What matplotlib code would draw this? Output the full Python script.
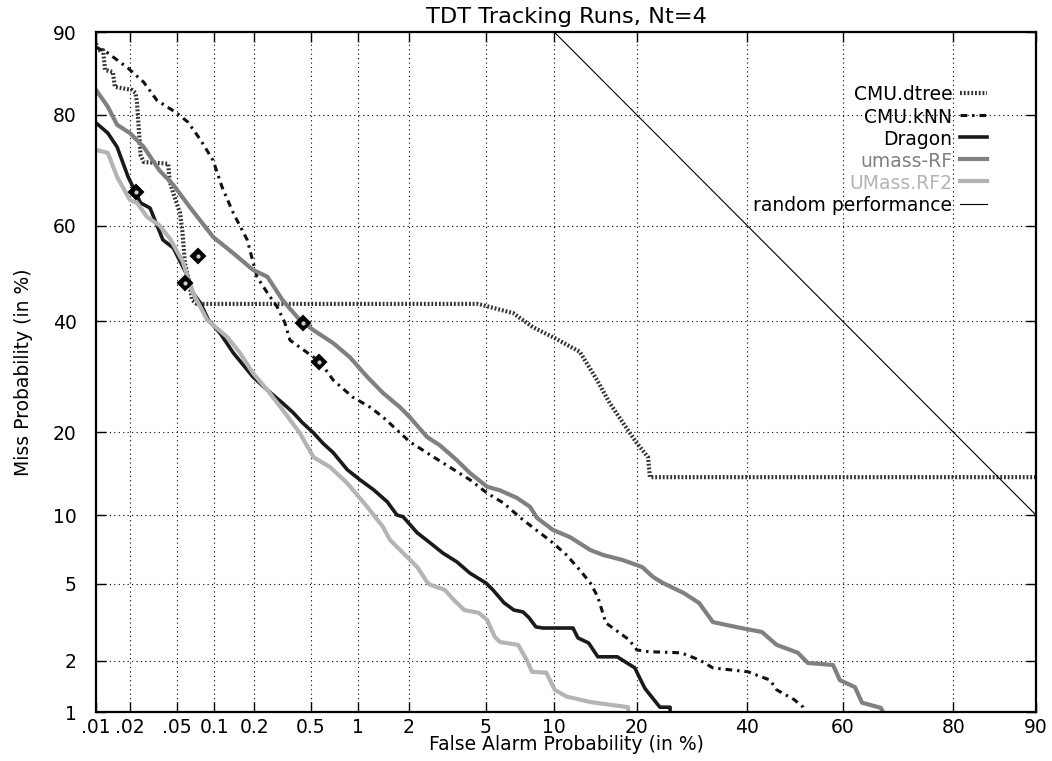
import numpy as np
import matplotlib
matplotlib.use("Agg")
import matplotlib.pyplot as plt
from matplotlib.ticker import FixedLocator, FixedFormatter, NullLocator
from statistics import NormalDist

# valores (en %)
dtree_fa = [0.01, 0.0104, 0.0116, 0.0121, 0.0142, 0.0148, 0.0210, 0.0225, 0.0232, 0.0249,
            0.0265, 0.0426, 0.044, 0.047, 0.0534, 0.056, 0.0585, 0.062, 0.067, 0.073,
            4.58, 6.67, 8.15, 10.05, 12.6, 14.6, 16.2, 18.0, 20.0, 21.7, 22.0, 90]
dtree_miss = [88.9, 88.2, 88.2, 86.0, 85.75, 83.9, 83.5, 83.1, 81.7, 73.5,
              72.3, 72.0, 68.7, 66.5, 62.6, 58.5, 52.2, 49.3, 44.4, 43.6,
              43.6, 41.7, 38.8, 36.6, 33.9, 28.6, 24.6, 21.4, 18.4, 16.5, 14.0, 14.0]

knn_fa = [0.01, 0.0128, 0.0194, 0.0265, 0.0343, 0.050, 0.062, 0.078, 0.098, 0.115,
          0.140, 0.178, 0.21, 0.25, 0.293, 0.332, 0.36, 0.42, 0.574, 0.70,
          0.93, 1.19, 1.42, 1.78, 2.02, 2.61, 3.32, 4.18, 5.07, 6.01,
          7.39, 8.73, 9.88, 11.2, 12.6, 13.8, 14.7, 15.7, 18.85, 20.0,
          21.8, 27.2, 30.5, 33.1, 40.1, 44.7, 46.1, 49.8, 51.7, 52.1]
knn_miss = [88.5, 87.9, 86.2, 84.5, 82.1, 80.3, 78.9, 76.1, 72.6, 67.7,
            62.6, 57.1, 49.3, 45.9, 43.0, 39.7, 36.2, 34.8, 32.0, 28.6,
            25.6, 23.9, 22.3, 19.9, 18.6, 16.8, 15.2, 13.7, 12.2, 11.2,
            9.56, 8.45, 7.65, 6.77, 5.79, 5.03, 4.31, 3.19, 2.60, 2.29,
            2.24, 2.21, 2.02, 1.82, 1.73, 1.55, 1.36, 1.19, 1.07, 1.0]

dragon_fa = [0.01, 0.0128, 0.0155, 0.0194, 0.0225, 0.0249, 0.030, 0.0385, 0.047, 0.062,
             0.068, 0.078, 0.090, 0.111, 0.140, 0.196, 0.25, 0.32, 0.38, 0.44,
             0.52, 0.60, 0.70, 0.86, 1.03, 1.24, 1.50, 1.71, 1.85, 2.22,
             2.61, 3.05, 3.60, 4.18, 5.0, 5.40, 6.08, 6.73, 7.39, 7.85,
             8.40, 9.0, 11.87, 12.4, 13.6, 14.7, 17.2, 19.7, 20.2, 21.2,
             21.8, 23.6, 25.3, 25.3]
dragon_miss = [78.8, 77.2, 74.9, 69.6, 66.7, 64.6, 63.6, 57.1, 55.4, 49.3,
               45.9, 43.8, 40.3, 37.6, 33.7, 29.2, 26.8, 24.6, 23.0, 21.4,
               19.9, 18.4, 17.1, 14.9, 13.7, 12.6, 11.3, 10.0, 9.85, 8.45,
               7.65, 6.9, 6.3, 5.6, 5.03, 4.66, 4.03, 3.71, 3.63, 3.39,
               3.04, 3.0, 3.0, 2.66, 2.50, 2.10, 2.10, 1.82, 1.66, 1.39,
               1.30, 1.07, 1.07, 1.0]

rf_fa = [0.01, 0.0128, 0.0155, 0.0201, 0.0265, 0.036, 0.047, 0.064, 0.098, 0.140,
         0.196, 0.25, 0.32, 0.42, 0.52, 0.70, 0.89, 1.14, 1.42, 1.78,
         2.02, 2.51, 2.94, 3.60, 4.18, 5.07, 5.82, 6.94, 7.92, 8.49,
         9.88, 11.55, 13.8, 15.35, 18.0, 20.8, 22.5, 24.1, 27.7, 30.5,
         33.1, 38.7, 43.0, 46.1, 50.6, 52.7, 58.0, 59.4, 62.5, 63.9,
         67.6, 68.0]
rf_miss = [83.5, 81.2, 78.5, 77.2, 74.9, 70.8, 68.1, 63.8, 57.7, 54.3,
           50.8, 49.3, 44.4, 40.3, 38.2, 35.6, 32.9, 29.2, 26.3, 23.9,
           22.3, 19.3, 18.1, 16.1, 14.5, 12.9, 12.5, 11.7, 10.8, 9.74,
           8.69, 8.1, 7.12, 6.77, 6.42, 5.97, 5.37, 5.03, 4.50, 4.02,
           3.22, 3.0, 2.86, 2.44, 2.21, 1.94, 1.89, 1.55, 1.41, 1.14,
           1.06, 1.0]

rf2_fa = [0.01, 0.0128, 0.0155, 0.0201, 0.0232, 0.0283, 0.036, 0.044, 0.056, 0.068,
          0.088, 0.126, 0.157, 0.196, 0.25, 0.32, 0.42, 0.52, 0.67, 0.86,
          1.14, 1.42, 1.56, 1.95, 2.22, 2.51, 2.61, 3.12, 3.48, 3.92,
          4.63, 5.07, 5.51, 5.82, 7.03, 7.67, 8.08, 9.28, 10.05, 11.2,
          13.8, 18.7, 18.75]
rf2_miss = [74.4, 73.9, 69.6, 65.2, 64.6, 61.8, 60.1, 57.4, 52.6, 45.9,
            40.3, 36.8, 33.7, 29.9, 26.8, 23.5, 19.9, 16.5, 15.2, 13.3,
            10.8, 8.93, 7.87, 6.63, 5.97, 5.09, 4.93, 4.66, 4.16, 3.71,
            3.59, 3.30, 2.69, 2.53, 2.44, 2.02, 1.73, 1.71, 1.36, 1.24,
            1.15, 1.07, 1.0]

random_fa = [10, 90]
random_miss = [90, 10]

# puntos de coste minimo
min_fa = [0.0225, 0.0747, 0.0585, 0.44, 0.565]
min_miss = [66.7, 53.7, 48.0, 39.7, 32.0]

x_ticks = [0.01, 0.02, 0.05, 0.1, 0.2, 0.5, 1, 2, 5, 10, 20, 40, 60, 80, 90]
x_labels = [".01", ".02", ".05", "0.1", "0.2", "0.5", "1", "2", "5", "10", "20", "40", "60", "80", "90"]
y_ticks = [1, 2, 5, 10, 20, 40, 60, 80, 90]
y_labels = ["1", "2", "5", "10", "20", "40", "60", "80", "90"]

nd = NormalDist()
_ppf = np.vectorize(nd.inv_cdf, otypes=[float])
_cdf = np.vectorize(nd.cdf, otypes=[float])


def probit(v):
    v = np.clip(np.asarray(v, dtype=float) / 100.0, 1e-9, 1 - 1e-9)
    return _ppf(v)


def inv_probit(z):
    return 100.0 * _cdf(np.asarray(z, dtype=float))


plt.rcParams["font.family"] = ["DejaVu Sans"]
plt.rcParams["font.size"] = 13.5

fig = plt.figure(figsize=(10.52, 7.61), dpi=100)
ax = fig.add_axes([96 / 1052, 1 - 712 / 761, 940 / 1052, 680 / 761])
ax.set_xscale("function", functions=(probit, inv_probit))
ax.set_yscale("function", functions=(probit, inv_probit))

ax.plot(dtree_fa, dtree_miss, color="#333333", lw=3, linestyle=(0, (0.45, 0.45)))
ax.plot(knn_fa, knn_miss, color="#111111", lw=2.2, linestyle=(0, (2.2, 1.6, 0.8, 1.6)))
ax.plot(dragon_fa, dragon_miss, color="#1a1a1a", lw=2.6)
ax.plot(rf_fa, rf_miss, color="#808080", lw=3)
ax.plot(rf2_fa, rf2_miss, color="#b4b4b4", lw=3)
ax.plot(random_fa, random_miss, color="black", lw=0.8)
ax.plot(min_fa, min_miss, linestyle="none", marker="D", ms=7, mfc="black", mec="black", mew=1.5, zorder=5)
ax.plot(min_fa, min_miss, linestyle="none", marker="o", ms=2, color="#d0d0d0", zorder=6)

ax.set_xlim(0.01, 90)
ax.set_ylim(1, 90)
ax.xaxis.set_major_locator(FixedLocator(x_ticks))
ax.xaxis.set_major_formatter(FixedFormatter(x_labels))
ax.yaxis.set_major_locator(FixedLocator(y_ticks))
ax.yaxis.set_major_formatter(FixedFormatter(y_labels))
ax.xaxis.set_minor_locator(NullLocator())
ax.yaxis.set_minor_locator(NullLocator())
ax.tick_params(direction="in", top=True, right=True, length=7, width=1, color="black")
ax.tick_params(axis="x", pad=4)
ax.tick_params(axis="y", pad=14)
ax.grid(True, color="black", linestyle=(0, (1, 3)), linewidth=0.8)
ax.set_axisbelow(True)
for s in ax.spines.values():
    s.set_linewidth(1.6)

ax.set_title("TDT Tracking Runs, Nt=4", pad=6.5)
ax.set_xlabel("False Alarm Probability (in %)")
ax.set_ylabel("Miss Probability (in %)")
ax.xaxis.set_label_coords(0.5, -0.034)
ax.yaxis.set_label_coords(-0.067, 0.5)

# leyenda a mano: texto alineado a la derecha y muestra de linea despues
leyenda = [
    ("CMU.dtree", "black", dict(color="#333333", lw=3, linestyle=(0, (0.45, 0.45)))),
    ("CMU.kNN", "black", dict(color="#111111", lw=2.2, linestyle=(0, (2.2, 1.6, 0.8, 1.6)))),
    ("Dragon", "black", dict(color="#1a1a1a", lw=2.6)),
    ("umass-RF", "#808080", dict(color="#808080", lw=3)),
    ("UMass.RF2", "#b4b4b4", dict(color="#b4b4b4", lw=3)),
    ("random performance", "black", dict(color="black", lw=0.8)),
]
for i, (nombre, col, estilo) in enumerate(leyenda):
    yy = (712 - (93 + 22.1 * i)) / 680
    ax.text(0.911, yy, nombre, transform=ax.transAxes, ha="right", va="center_baseline", color=col)
    ax.plot([0.919, 0.948], [yy, yy], transform=ax.transAxes, **estilo)

fig.savefig("out.png", dpi=100)
